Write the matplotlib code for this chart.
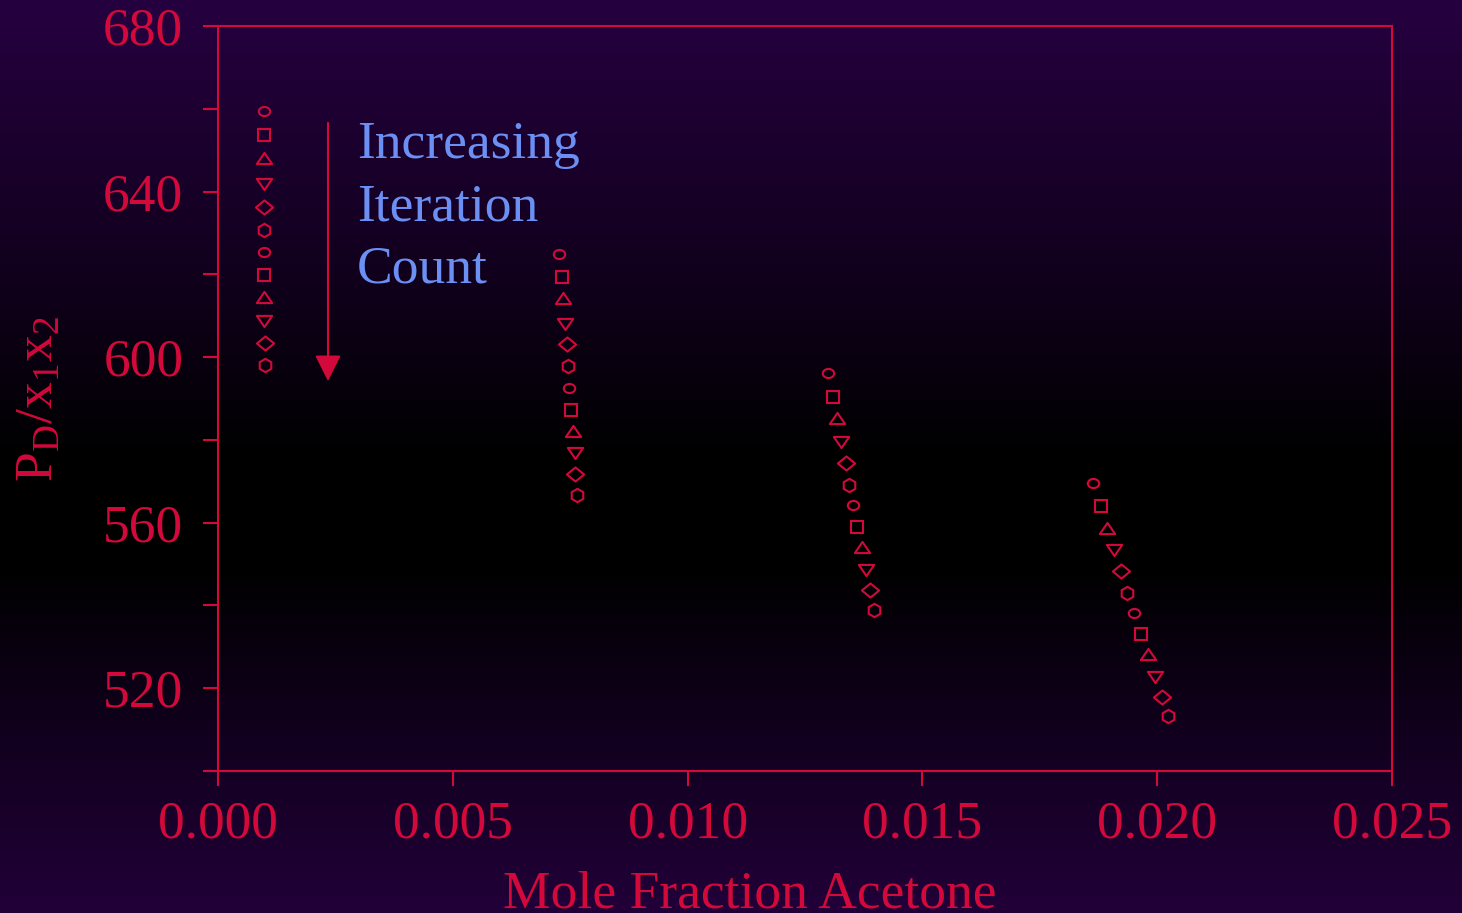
import numpy as np
import matplotlib.pyplot as plt
from matplotlib.path import Path
from matplotlib.transforms import Affine2D

# Wyniki kolejnych iteracji dla czterech składów mieszaniny
x_run1 = [0.00098, 0.00099, 0.00099, 0.00099, 0.00099, 0.00099,
          0.00099, 0.00099, 0.00099, 0.00099, 0.00100, 0.00100]
y_run1 = [659.5, 653.7, 648.1, 641.8, 636.3, 630.7,
          625.4, 619.8, 614.5, 608.7, 603.4, 598.1]

x_run2 = [0.007268, 0.007332, 0.007353, 0.007396, 0.007425, 0.007453,
          0.007468, 0.007523, 0.007553, 0.007596, 0.007609, 0.007645]
y_run2 = [624.9, 619.3, 614.3, 608.0, 603.1, 597.8,
          592.5, 587.2, 582.1, 576.8, 571.7, 566.6]

x_run3 = [0.012996, 0.013103, 0.013188, 0.013273, 0.013367, 0.013443,
          0.013516, 0.013614, 0.013714, 0.013799, 0.013884, 0.013969]
y_run3 = [596.1, 590.4, 585.2, 579.5, 574.5, 569.0,
          564.2, 559.0, 554.2, 548.5, 543.7, 538.9]

x_run4 = [0.018633, 0.018797, 0.018937, 0.019080, 0.019223, 0.019363,
          0.019499, 0.019655, 0.019804, 0.019953, 0.020096, 0.020236]
y_run4 = [569.5, 564.0, 558.8, 553.4, 548.4, 543.0,
          538.2, 533.0, 528.2, 522.7, 517.9, 513.2]

x_ticks = [0.000, 0.005, 0.010, 0.015, 0.020, 0.025]
x_ticklabels = ['0.000', '0.005', '0.010', '0.015', '0.020', '0.025']
y_ticks = [500, 520, 540, 560, 580, 600, 620, 640, 660, 680]
y_ticklabels = ['', '520', '', '560', '', '600', '', '640', '', '680']

# strzałka "Increasing Iteration Count" (x, y_start, y_end)
arrow_x = 0.002342
arrow_y0 = 656.6
arrow_y1 = 594.2

RED = '#d2093a'
BLUE = '#6b8ff2'
FS = 38.5

plt.rcParams['font.family'] = ['Liberation Serif', 'DejaVu Serif']
plt.rcParams['mathtext.fontset'] = 'custom'
plt.rcParams['mathtext.rm'] = 'Liberation Serif'
plt.rcParams['mathtext.it'] = 'Liberation Serif:italic'

# kształty znaczników
ellipse = Path.unit_circle().transformed(Affine2D().scale(1.0, 0.8))
tri_up = Path([(0, 0.73), (-1, -0.73), (1, -0.73), (0, 0.73)],
              [Path.MOVETO, Path.LINETO, Path.LINETO, Path.CLOSEPOLY])
tri_down = Path([(0, -0.73), (-1, 0.73), (1, 0.73), (0, -0.73)],
                [Path.MOVETO, Path.LINETO, Path.LINETO, Path.CLOSEPOLY])
diamond = Path([(0, 0.82), (1, 0), (0, -0.82), (-1, 0), (0, 0.82)],
               [Path.MOVETO, Path.LINETO, Path.LINETO, Path.LINETO, Path.CLOSEPOLY])
marker_cycle = [(ellipse, 8.2), ('s', 8.8), (tri_up, 11.0),
                (tri_down, 11.0), (diamond, 12.4), ('h', 9.6)]

fig = plt.figure(figsize=(14.62, 9.13), dpi=100)

# tło z pionowym gradientem fiolet -> czerń -> fiolet
bg = fig.add_axes([0, 0, 1, 1], zorder=-10)
f = np.linspace(0, 1, 400)
level = np.interp(f, [0.0, 0.3, 0.5, 0.62, 0.82, 1.0],
                  [1.0, 0.45, 0.0, 0.0, 0.5, 0.88])
base = np.array([38, 0, 64]) / 255.0
grad = level[:, None, None] * base[None, None, :]
bg.imshow(grad, aspect='auto', extent=[0, 1, 0, 1], origin='upper')
bg.set_axis_off()

ax = fig.add_axes([218 / 1462, 142 / 913, 1174 / 1462, 745 / 913])
ax.set_facecolor('none')

for xs, ys in [(x_run1, y_run1), (x_run2, y_run2),
               (x_run3, y_run3), (x_run4, y_run4)]:
    for i, (xv, yv) in enumerate(zip(xs, ys)):
        m, ms = marker_cycle[i % len(marker_cycle)]
        ax.plot(xv, yv, linestyle='none', marker=m, markersize=ms,
                markerfacecolor='none', markeredgecolor=RED,
                markeredgewidth=1.5)

ax.annotate('', xy=(arrow_x, arrow_y1), xytext=(arrow_x, arrow_y0),
            arrowprops=dict(arrowstyle='-|>', color=RED, lw=1.5,
                            mutation_scale=40, shrinkA=0, shrinkB=0))

ax.text(0.00296, 657.0, 'Increasing\nIteration\nCount', color=BLUE,
        fontsize=FS, va='top', ha='left', linespacing=1.38)

ax.set_xlim(0, 0.025)
ax.set_ylim(500, 680)
ax.set_xticks(x_ticks)
ax.set_xticklabels(x_ticklabels)
ax.set_yticks(y_ticks)
ax.set_yticklabels(y_ticklabels)

for sp in ax.spines.values():
    sp.set_color(RED)
    sp.set_linewidth(1.5)
ax.tick_params(axis='both', colors=RED, labelsize=FS, length=11,
               width=1.5, direction='out')
ax.tick_params(axis='y', pad=14)
ax.tick_params(axis='x', pad=10)

ax.set_xlabel('Mole Fraction Acetone', color=RED, fontsize=FS)
ax.xaxis.set_label_coords((750 - 218) / 1174, (771 - 907) / 745)
ax.xaxis.label.set_va('baseline')

ax.set_ylabel(r'$\mathrm{P_D/x_1x_2}$', color=RED, fontsize=FS)
ax.yaxis.set_label_coords((53 - 218) / 1174, 0.5)
ax.yaxis.label.set_va('baseline')

fig.savefig('out.png', dpi=100)
